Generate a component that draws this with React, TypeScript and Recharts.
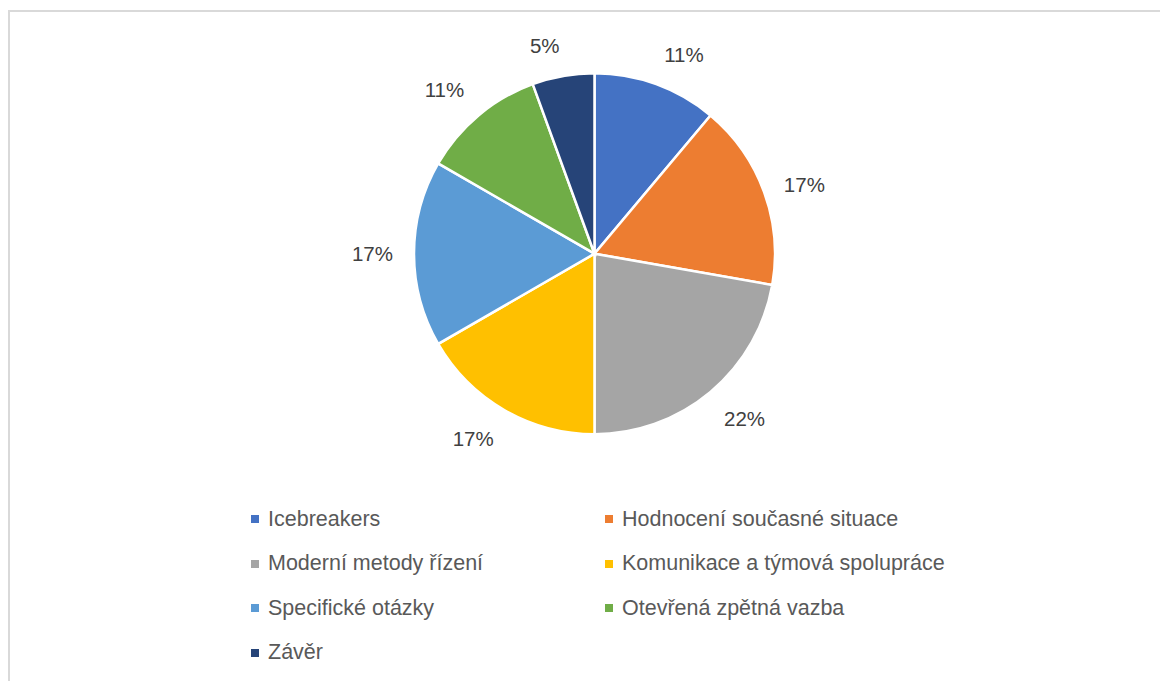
import { PieChart, Pie, Cell, Legend } from 'recharts';

const categories = [
  'Icebreakers',
  'Hodnocení současné situace',
  'Moderní metody řízení',
  'Komunikace a týmová spolupráce',
  'Specifické otázky',
  'Otevřená zpětná vazba',
  'Závěr',
];

// slice sizes (units of 1/18)
const values = [2, 3, 4, 3, 3, 2, 1];

// percentages as printed on the chart
const percentLabels = ['11%', '17%', '22%', '17%', '17%', '11%', '5%'];

const colors = ['#4472C4', '#ED7D31', '#A5A5A5', '#FFC000', '#5B9BD5', '#70AD47', '#264478'];

const data = categories.map((name, i) => ({ name, value: values[i], label: percentLabels[i] }));

const FONT = '"Liberation Sans", Arial, sans-serif';
const RAD = Math.PI / 180;
const LABEL_SIZE = 20.5;

const clamp = (v: number, lo: number, hi: number) => Math.max(lo, Math.min(hi, v));

// excel-ish outside-end labels: anchor on a ring, text box pushed away from the pie
const renderLabel = (props: any) => {
  const { cx, cy, midAngle, outerRadius, index } = props;
  const text = percentLabels[index];
  const w = (text.length - 1) * 0.556 * LABEL_SIZE + 0.889 * LABEL_SIZE;
  const h = LABEL_SIZE;
  const cos = Math.cos(midAngle * RAD);
  const sin = Math.sin(midAngle * RAD);
  const r = outerRadius + 21;
  const ax = cx + r * cos;
  const ay = cy - r * sin;
  const dx = (w / 2) * clamp(cos / 0.12, -1, 1);
  const dy = -(h / 2) * Math.sign(sin) * clamp((Math.abs(sin) - 0.4) / 0.3, 0, 1);
  return (
    <text
      x={ax + dx}
      y={ay + dy}
      textAnchor="middle"
      dominantBaseline="central"
      fill="#404040"
      fontSize={LABEL_SIZE}
      fontFamily={FONT}
    >
      {text}
    </text>
  );
};

const renderLegend = () => (
  <div style={{ position: 'relative', width: 1160, height: 200 }}>
    {categories.map((name, i) => {
      const col = i % 2;
      const row = Math.floor(i / 2);
      return (
        <div
          key={`legend-${i}`}
          style={{
            position: 'absolute',
            left: col === 0 ? 243 : 597,
            top: row * 44.5,
            height: 30,
            display: 'flex',
            alignItems: 'center',
            fontFamily: FONT,
            fontSize: 21.5,
            color: '#595959',
            whiteSpace: 'nowrap',
          }}
        >
          <span
            style={{
              display: 'inline-block',
              width: 8,
              height: 8,
              background: colors[i],
              marginRight: 9,
            }}
          />
          {name}
        </div>
      );
    })}
  </div>
);

export default function App() {
  return (
    <div style={{ position: 'relative', width: 1160, height: 673 }}>
      <div
        style={{
          position: 'absolute',
          left: 0,
          top: 2,
          width: 1200,
          height: 700,
          borderTop: '2px solid #d9d9d9',
          borderLeft: '2px solid #d9d9d9',
          boxSizing: 'border-box',
        }}
      />
      <PieChart
        width={1160}
        height={673}
        margin={{ top: 0, right: 0, bottom: 0, left: 0 }}
        style={{ position: 'absolute', left: 0, top: 0 }}
      >
        <Pie
          data={data}
          dataKey="value"
          nameKey="name"
          cx={586.5}
          cy={245.7}
          outerRadius={180.5}
          startAngle={90}
          endAngle={-270}
          stroke="#ffffff"
          strokeWidth={2.5}
          labelLine={false}
          label={renderLabel}
          isAnimationActive={false}
        >
          {data.map((entry, i) => (
            <Cell key={`cell-${entry.name}`} fill={colors[i]} />
          ))}
        </Pie>
        <Legend
          content={renderLegend}
          wrapperStyle={{ position: 'absolute', left: 0, top: 496, width: 1160 }}
        />
      </PieChart>
    </div>
  );
}
